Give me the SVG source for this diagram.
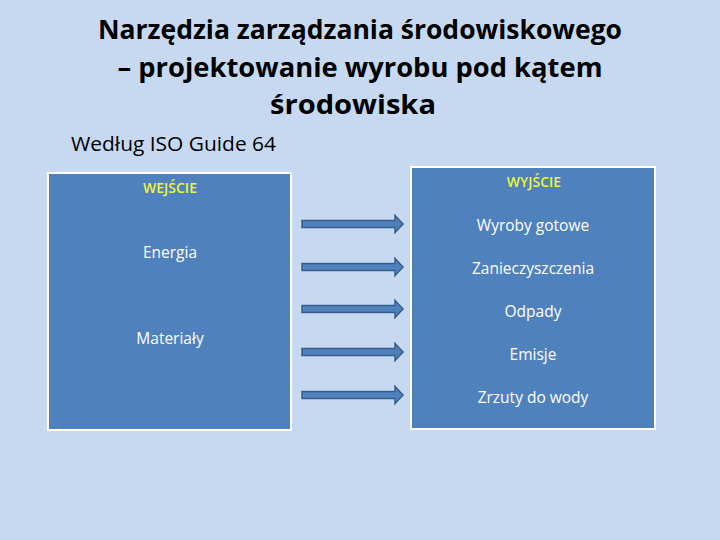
<svg xmlns="http://www.w3.org/2000/svg" width="720" height="540" viewBox="0 0 720 540">
<style>
.t{font-family:"Open Sans","Noto Sans",sans-serif;fill:#000}
.title{font-size:27px;font-weight:bold;text-anchor:middle}
.sub{font-size:20px}
.box{fill:#4F81BD;stroke:#FFFFFF;stroke-width:2}
.lbl{font-family:"Open Sans","Noto Sans",sans-serif;font-size:15.5px;fill:#FFFFFF;text-anchor:middle}
.hd{font-family:"Open Sans","Noto Sans",sans-serif;font-size:14px;font-weight:600;fill:#EEF53A;text-anchor:middle}
.arr{fill:#4F81BD;stroke:#385D8A;stroke-width:1.5}
</style>
<rect width="720" height="540" fill="#C6D9F0"/>
<g id="title">
<text class="t title" x="360" y="39" textLength="524" lengthAdjust="spacingAndGlyphs">Narzędzia zarządzania środowiskowego</text>
<text class="t title" x="360" y="77" textLength="485" lengthAdjust="spacingAndGlyphs">– projektowanie wyrobu pod kątem</text>
<text class="t title" x="353" y="114" textLength="166" lengthAdjust="spacingAndGlyphs">środowiska</text>
<text class="t sub" x="71" y="151" textLength="205" lengthAdjust="spacingAndGlyphs">Według ISO Guide 64</text>
</g>
<g id="input">
<rect class="box" x="48" y="173" width="243" height="257"/>
<text class="hd" x="170" y="193">WEJŚCIE</text>
<text class="lbl" x="170" y="258">Energia</text>
<text class="lbl" x="170" y="344">Materiały</text>
</g>
<g id="output">
<rect class="box" x="411" y="167" width="244" height="262"/>
<text class="hd" x="534" y="187">WYJŚCIE</text>
<text class="lbl" x="533" y="231">Wyroby gotowe</text>
<text class="lbl" x="533" y="274">Zanieczyszczenia</text>
<text class="lbl" x="533" y="317">Odpady</text>
<text class="lbl" x="533" y="360">Emisje</text>
<text class="lbl" x="533" y="403">Zrzuty do wody</text>
</g>
<g id="connectors">
<defs>
<path id="a" d="M0,-3.5 H93 V-8.5 L101,0 L93,8.5 V3.5 H0 Z"/>
</defs>
<use href="#a" class="arr" x="302" y="224"/>
<use href="#a" class="arr" x="302" y="267"/>
<use href="#a" class="arr" x="302" y="309"/>
<use href="#a" class="arr" x="302" y="352"/>
<use href="#a" class="arr" x="302" y="395"/>
</g>
</svg>
